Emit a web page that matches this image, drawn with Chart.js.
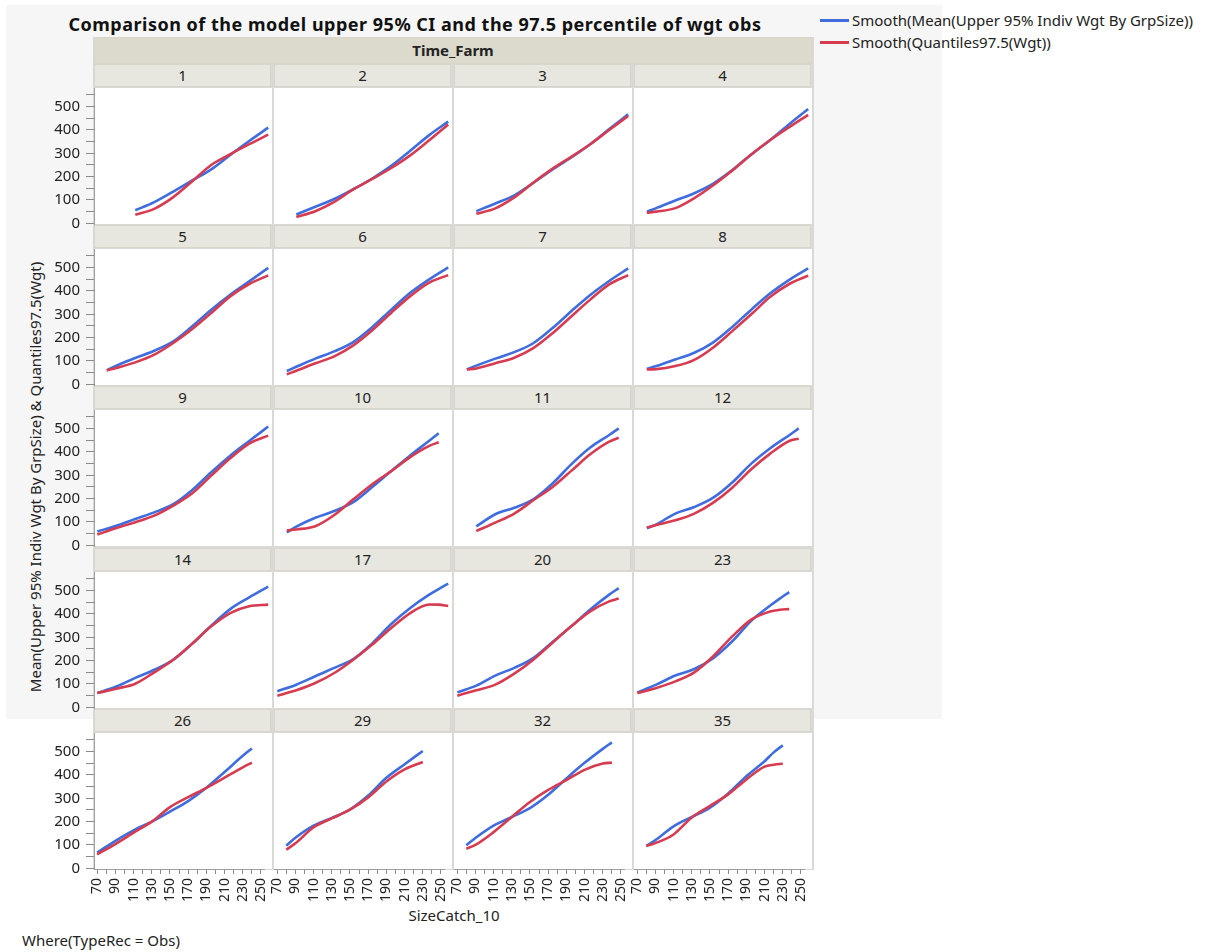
<!DOCTYPE html>
<html><head><meta charset="utf-8">
<script src="https://cdn.jsdelivr.net/npm/chart.js@4.4.1/dist/chart.umd.min.js"></script>
<style>
html,body{margin:0;padding:0;background:#fff;}
body{font-family:"Noto Sans","Open Sans",sans-serif;color:#1e1e1e;}
#root{position:relative;width:1213px;height:952px;overflow:hidden;}
.a{position:absolute;}
.hdr{position:absolute;background:#e8e7df;box-sizing:border-box;border:1px solid #d8d6cb;font-size:15px;line-height:21px;text-align:center;color:#222;}
.plot{position:absolute;background:#fff;}
canvas{position:absolute;}
</style></head>
<body><div id="root"></div>
<script>
// ---- data ----
const farmLabels = ['1','2','3','4','5','6','7','8','9','10','11','12','14','17','20','23','26','29','32','35'];
const sizeCatch = [
  [110,130,150,170,190,210,230,250],
  [90,110,130,150,170,190,210,230,250],
  [90,110,130,150,170,190,210,230,250],
  [80,90,110,130,150,170,190,210,230,250],
  [80,90,110,130,150,170,190,210,230,250],
  [80,90,110,130,150,170,190,210,230,250],
  [80,90,110,130,150,170,190,210,230,250],
  [80,90,110,130,150,170,190,210,230,250],
  [70,90,110,130,150,170,190,210,230,250],
  [80,90,110,130,150,170,190,210,230,240],
  [90,110,130,150,170,190,210,230,240],
  [80,90,110,130,150,170,190,210,230,240],
  [70,90,110,130,150,170,190,210,230,250],
  [70,90,110,130,150,170,190,210,230,240,250],
  [70,90,110,130,150,170,190,210,230,240],
  [70,90,110,130,150,170,190,210,220,230],
  [70,90,110,130,150,170,190,210,230,240],
  [80,90,110,130,150,170,190,210,230],
  [80,90,110,130,150,170,190,210,230,240],
  [80,90,110,130,150,170,190,210,220,230]
];
const upper95Wgt = [
  [56,91,136,184,231,293,353,410],
  [38,71,104,146,192,246,311,378,436],
  [52,85,120,173,230,282,339,404,467],
  [50,65,98,129,170,228,295,357,425,490],
  [60,80,113,144,184,249,320,384,441,499],
  [57,75,110,141,181,245,320,392,450,501],
  [64,80,110,138,176,240,313,383,443,497],
  [66,78,106,135,180,246,320,390,448,497],
  [59,84,113,141,176,237,313,384,447,509],
  [55,80,118,147,185,250,318,385,448,480],
  [81,133,161,197,264,347,419,473,501],
  [73,90,136,164,204,269,350,416,472,501],
  [61,89,126,161,204,273,350,421,471,517],
  [69,97,133,169,207,274,357,426,483,507,530],
  [64,93,136,169,211,279,347,419,483,511],
  [64,97,136,164,211,283,371,436,466,494],
  [67,118,163,200,243,288,345,413,482,514],
  [97,131,183,216,252,312,388,446,503],
  [99,130,183,220,258,315,385,452,512,540],
  [96,121,180,220,260,321,395,459,497,527]
];
const q975Wgt = [
  [37,62,112,180,250,296,339,380],
  [27,52,92,145,190,237,291,356,424],
  [41,64,111,174,233,285,339,400,460],
  [45,50,65,108,163,226,295,357,412,465],
  [60,70,94,127,177,237,306,377,430,467],
  [43,58,90,120,167,232,307,378,436,468],
  [64,68,90,114,155,218,291,363,428,468],
  [64,65,78,105,158,228,300,375,430,466],
  [46,74,99,127,170,223,299,373,436,470],
  [64,68,82,130,197,262,318,378,426,442],
  [61,97,136,193,249,319,390,444,461],
  [76,87,107,136,183,247,326,393,447,457],
  [61,80,101,150,204,273,347,404,433,440],
  [50,73,104,147,204,269,340,404,441,440,434],
  [50,73,97,144,204,276,347,411,454,466],
  [61,83,111,150,219,304,376,411,418,421],
  [60,104,153,200,262,305,345,389,433,453],
  [80,107,176,214,251,304,372,424,456],
  [84,100,155,220,284,336,378,422,449,453],
  [96,108,145,218,268,317,381,436,444,448]
];
const xTickValues = [70,80,90,100,110,120,130,140,150,160,170,180,190,200,210,220,230,240,250];
const xTickLabels = ['70','','90','','110','','130','','150','','170','','190','','210','','230','','250'];
const yTickValues = [0,50,100,150,200,250,300,350,400,450,500,550];
const yTickLabels = ['0','','100','','200','','300','','400','','500',''];
const seriesNames = ['Smooth(Mean(Upper 95% Indiv Wgt By GrpSize))','Smooth(Quantiles97.5(Wgt))'];
const seriesColors = ['#3f6ddd','#d63b50'];

// ---- layout ----
const root = document.getElementById('root');
function el(cls, css, text){const d=document.createElement('div');d.className=cls;Object.assign(d.style,css);if(text!==undefined)d.textContent=text;root.appendChild(d);return d;}
el('a',{left:'6px',top:'5px',width:'936px',height:'714px',background:'#f6f6f6'});
el('a',{left:'0px',top:'13px',width:'830px',textAlign:'center',fontWeight:'bold',fontSize:'18px',letterSpacing:'0.5px',lineHeight:'22px',color:'#111'},'Comparison of the model upper 95% CI and the 97.5 percentile of wgt obs');
seriesNames.forEach((n,i)=>{
  el('a',{left:'820px',top:(19+22*i)+'px',width:'29px',height:'3px',background:seriesColors[i]});
  el('a',{left:'852px',top:(10+22*i)+'px',fontSize:'15px',lineHeight:'20px',whiteSpace:'nowrap',color:'#222'},n);
});
el('a',{left:'93px',top:'37px',width:'721px',height:'833px',background:'#d9d9d6'});
el('hdr',{left:'94px',top:'37px',width:'718px',height:'27px',background:'#dcdacd',fontWeight:'bold',lineHeight:'25px'},'Time_Farm');
const colX = c => 94 + 180*c;
const hdrY = r => Math.round(64 + 161.2*r);
const plotW = 178, plotH = 136;
const ytBox = el('a',{left:'35px',top:'477px',width:'0px',height:'0px'});
const yt = document.createElement('div');
yt.textContent = 'Mean(Upper 95% Indiv Wgt By GrpSize) & Quantiles97.5(Wgt)';
Object.assign(yt.style,{position:'absolute',left:'0px',top:'0px',transform:'translate(-50%,-50%) rotate(-90deg)',whiteSpace:'nowrap',fontSize:'15px',lineHeight:'20px',color:'#222'});
ytBox.appendChild(yt);
el('a',{left:'254px',top:'905px',width:'400px',textAlign:'center',fontSize:'15px',lineHeight:'20px',color:'#222'},'SizeCatch_10');
el('a',{left:'22px',top:'930px',fontSize:'15px',lineHeight:'20px',color:'#222'},'Where(TypeRec = Obs)');

const fam = '"Noto Sans","Open Sans",sans-serif';

farmLabels.forEach((lab,i)=>{
  const r = Math.floor(i/4), c = i%4;
  const hx = colX(c), hy = hdrY(r);
  el('hdr',{left:hx+'px',top:hy+'px',width:(plotW-1)+'px',height:'23px'},lab);
  const py = hy + 24;
  el('plot',{left:hx+'px',top:py+'px',width:plotW+'px',height:plotH+'px'});
  const isLeft = c===0, isBottom = r===4;
  const axisW = isLeft?60:0, axisH = isBottom?46:0;
  const padT = 18, padB = isBottom?0:18, padR = 10, padL = (isBottom && !isLeft)?10:0;
  const cv = document.createElement('canvas');
  const cw = padL + axisW + plotW + padR, ch = padT + plotH + padB + axisH;
  cv.width = cw; cv.height = ch;
  Object.assign(cv.style,{left:(hx-axisW-padL)+'px',top:(py-padT)+'px',width:cw+'px',height:ch+'px'});
  root.appendChild(cv);
  const xs = sizeCatch[i];
  new Chart(cv,{
    type:'line',
    data:{datasets:[
      {label:seriesNames[0],data:xs.map((x,k)=>({x:x,y:upper95Wgt[i][k]})),borderColor:seriesColors[0],borderWidth:2.6,pointRadius:0,cubicInterpolationMode:'monotone',order:1},
      {label:seriesNames[1],data:xs.map((x,k)=>({x:x,y:q975Wgt[i][k]})),borderColor:seriesColors[1],borderWidth:2.6,pointRadius:0,cubicInterpolationMode:'monotone',order:0}
    ]},
    options:{
      responsive:false, animation:false, devicePixelRatio:1, events:[],
      layout:{padding:{left:padL,top:padT,right:padR,bottom:padB}},
      plugins:{legend:{display:false},tooltip:{enabled:false}},
      scales:{
        x:{type:'linear',min:66.5,max:254,display:isBottom,
          afterBuildTicks:s=>{s.ticks=xTickValues.map(v=>({value:v}));},
          afterFit:s=>{s.height=axisH;},
          ticks:{autoSkip:false,minRotation:90,maxRotation:90,padding:4,color:'#222',font:{family:fam,size:14},
            callback:(v)=>{const k=xTickValues.indexOf(v);return k<0?'':xTickLabels[k];}},
          grid:{drawOnChartArea:false,tickLength:5,color:'#8a8a8a'},
          border:{color:'#a0a0a0',width:1}},
        y:{type:'linear',min:-3,max:580,display:isLeft,
          afterBuildTicks:s=>{s.ticks=yTickValues.map(v=>({value:v}));},
          afterFit:s=>{s.width=axisW;},
          ticks:{autoSkip:false,padding:6,color:'#222',font:{family:fam,size:15},
            callback:(v)=>{const k=yTickValues.indexOf(v);return k<0?'':yTickLabels[k];}},
          grid:{drawOnChartArea:false,tickLength:8,color:'#8a8a8a'},
          border:{color:'#a0a0a0',width:1}}
      }
    }
  });
});
</script>
</body></html>
